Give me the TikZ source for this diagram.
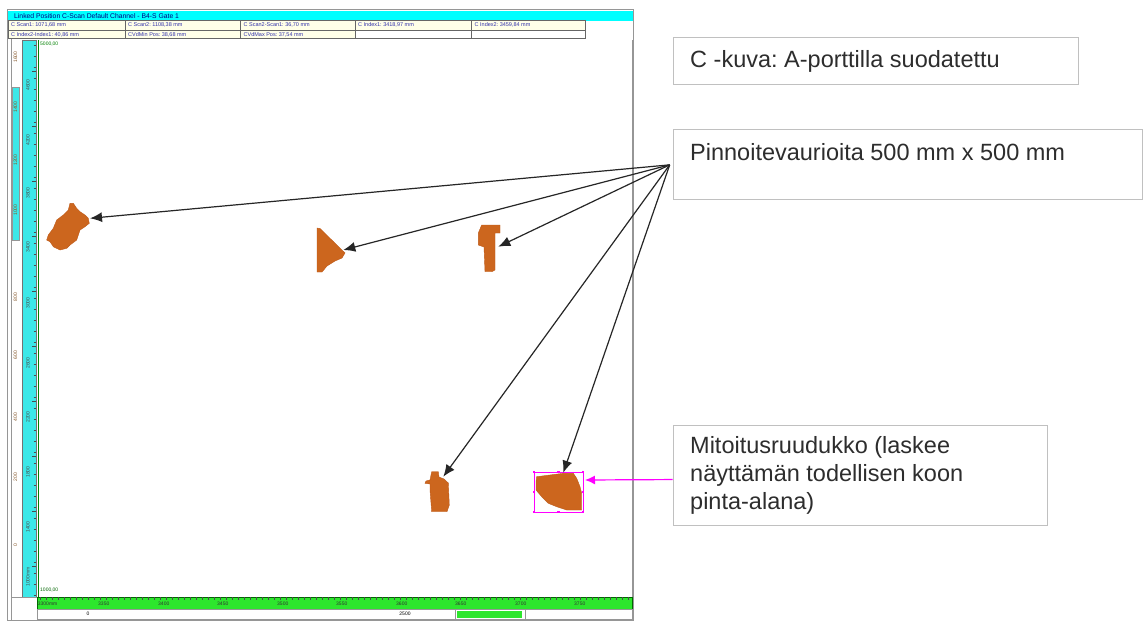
\documentclass[tikz,border=0pt]{standalone}
\usepackage{fontspec}
\setmainfont{Liberation Sans}
\usetikzlibrary{arrows.meta}
\frenchspacing
\definecolor{blob}{RGB}{204,102,30}
\definecolor{blobdark}{RGB}{190,90,25}
\definecolor{rulercyan}{RGB}{60,232,232}
\definecolor{hdrcyan}{RGB}{0,255,255}
\definecolor{rulegreen}{RGB}{45,230,45}
\definecolor{cellbg}{RGB}{255,255,232}
\definecolor{celltext}{RGB}{50,50,170}
\definecolor{boxborder}{RGB}{192,192,192}
\definecolor{mag}{RGB}{255,0,255}
\definecolor{framegray}{RGB}{150,150,150}
\definecolor{calltextcol}{RGB}{45,45,45}
\begin{document}
\begin{tikzpicture}[x=1pt,y=-1pt,
  callout/.style={draw=boxborder, line width=1.1pt, fill=white, inner sep=0pt, anchor=north west},
  calltext/.style={anchor=base west, font=\fontsize{23.5}{28.3}\selectfont, text=calltextcol, inner sep=0pt},
  pointer/.style={draw=black!85, line width=1.2pt, -{Latex[length=12pt,width=10pt]}},
  magpointer/.style={draw=mag, line width=1.2pt, -{Latex[length=10pt,width=9pt]}},
  blobshape/.style={fill=blob, draw=blobdark, line width=0.4pt},
  tiny/.style={font=\fontsize{5.5}{6}\selectfont, inner sep=0pt},
  celltxt/.style={tiny, text=celltext, anchor=west},
  rlabel/.style={font=\fontsize{5}{5}\selectfont, rotate=90, text=black!70, inner sep=0pt},
  frameline/.style={draw=framegray, line width=0.6pt}
]
\useasboundingbox (0,0) rectangle (1144,621);
\fill[white] (0,0) rectangle (1144,621);

% ---------- screenshot frame ----------
\draw[frameline, line width=1pt] (7,9) rectangle (633,620);
% header bar
\fill[hdrcyan] (8,11) rectangle (633,20.5);
\node[tiny, text=blue!50!black, anchor=west, font=\fontsize{6.8}{7}\selectfont] (hdr) at (14,15.8) {Linked Position C-Scan Default Channel - B4-S Gate 1};
% table
\fill[cellbg] (8.3,20.5) rectangle (585,30);
\fill[cellbg] (8.3,30) rectangle (355,38.7);
\draw[black!60, line width=0.7pt] (8.3,20.5) rectangle (585,38.7);
\draw[black!60, line width=0.6pt] (8.3,30) -- (585,30);
\foreach \x in {125,240.7,355,471.7} \draw[black!60, line width=0.6pt] (\x,20.5) -- (\x,38.7);
\node[celltxt] (c11) at (11,25.3) {C Scan1: 1071,68 mm};
\node[celltxt] (c12) at (128,25.3) {C Scan2: 1108,38 mm};
\node[celltxt] (c13) at (243.5,25.3) {C Scan2-Scan1: 36,70 mm};
\node[celltxt] (c14) at (358,25.3) {C Index1: 3418,97 mm};
\node[celltxt] (c15) at (474.5,25.3) {C Index2: 3459,84 mm};
\node[celltxt] (c21) at (11,34.4) {C Index2-Index1: 40,86 mm};
\node[celltxt] (c22) at (128,34.4) {CVdMin Pos: 38,68 mm};
\node[celltxt] (c23) at (243.5,34.4) {CVdMax Pos: 37,54 mm};

% left rulers
\draw[frameline] (11,39) -- (11,620);
\fill[rulercyan] (12,87) rectangle (19,240);
\draw[frameline] (12,87) rectangle (19,240);
\fill[rulercyan] (22,40) rectangle (36,597);
\draw[black!55, line width=0.6pt] (22,40) rectangle (36,597);
\foreach \y in {45,56,...,595} \draw[black!70, line width=0.5pt] (33.5,\y) -- (36,\y);
\foreach \y in {71,126,...,595} \draw[black!70, line width=0.5pt] (32,\y) -- (36,\y);
\foreach \y/\t in {85/4600,140/4200,193/3800,247/3400,303/3000,363/2600,417/2200,472/1800,527/1400,577/1000mm}
  \node[rlabel] at (28,\y) {\t};
\foreach \y/\t in {57/1600,107/1400,160/1200,210/1000,297/800,355/600,417/400,477/200,545/0}
  \node[rlabel, text=brown!70!black] at (15.5,\y) {\t};
% plot area
\draw[green!50!black, line width=0.5pt] (38,40) -- (38,597);
\draw[frameline] (632,40) -- (632,620);
\node[tiny, text=green!50!black, anchor=west, font=\fontsize{5}{5}\selectfont] (ymax) at (40,44) {5000,00};
\node[tiny, text=green!40!black, anchor=west, font=\fontsize{5}{5}\selectfont] (ymin) at (40,590) {1000,00};

% bottom ruler
\fill[rulegreen] (37,597) rectangle (632,609);
\draw[green!40!black, line width=0.5pt] (37,597) rectangle (632,609);
\foreach \x in {40,46,...,630} \draw[black!70, line width=0.5pt] (\x,597) -- (\x,599.5);
\foreach \x/\t in {37.7/3300mm,98/3350,158/3400,217/3450,277/3500,336/3550,396/3600,455/3650,515/3700,574/3750}
  \node[tiny, anchor=west, font=\fontsize{5}{5}\selectfont, text=black!80] at (\x,603.5) {\t};
\draw[frameline] (37,609) rectangle (632,619.5);
\draw[frameline] (455,609) -- (455,619.5);
\draw[frameline] (525,609) -- (525,619.5);
\fill[rulegreen] (457,610.5) rectangle (522,618);
\node[tiny, font=\fontsize{5}{5}\selectfont] (b0) at (88,614) {0};
\node[tiny, font=\fontsize{5}{5}\selectfont] (b2500) at (405,614) {2500};
\draw[frameline] (11,597) -- (37,597);

% ---------- defects ----------
\draw[blobshape] (70,203.3) -- (73.3,203.3) -- (76.7,208.3) -- (80,211.7) -- (85,215) -- (88.3,218.3) -- (89.3,223.3) -- (85,226.7) -- (80,230) -- (76.7,240) -- (70,245) -- (66.7,248.3) -- (60,250) -- (53.3,246.7) -- (50,241.7) -- (46.7,240) -- (48.3,235) -- (53.3,228.3) -- (56.7,220) -- (63.3,215) -- (68.3,210) -- cycle;
\draw[blobshape] (317,228) -- (320,228.5) -- (345,253) -- (342,258) -- (335,261) -- (327,266) -- (322,272) -- (317,272) -- cycle;
\draw[blobshape] (481.7,225) -- (500,225) -- (500,233) -- (495,233) -- (495,270) -- (491.7,271.7) -- (485,271.7) -- (484,247) -- (478.3,245) -- (478.3,233) -- cycle;
\draw[blobshape] (431.7,471.7) -- (438.3,471.7) -- (439,477) -- (444,479) -- (448.3,483) -- (449.3,505) -- (447,511.7) -- (431.7,511.7) -- (430,490) -- (430,484) -- (425,483.3) -- (426,481) -- (430,480) -- cycle;
\draw[blobshape] (536.7,476.7) -- (550,475) -- (563.3,473.3) -- (573.3,473.3) -- (576.7,478.3) -- (580,486.7) -- (581.7,493.3) -- (581.7,510) -- (566.7,510) -- (556.7,506.7) -- (548.3,503.3) -- (541.7,496.7) -- (536,490) -- (536,481.7) -- cycle;
% sizing grid (magenta box with handles)
\draw[mag, line width=0.7pt] (534,472) rectangle (583,512);
\foreach \p in {(534,472),(558.5,472),(583,472),(534,492),(583,492),(534,512),(558.5,512),(583,512)}
  \fill[mag] \p ++(-1.3,-1.3) rectangle ++(2.6,2.6);

% ---------- callout boxes ----------
\node[callout, minimum width=405pt, minimum height=47.3pt] (box1) at (672.7,36.7) {};
\node[calltext] (t1) at (690,67.3) {C -kuva: A-porttilla suodatettu};
\node[callout, minimum width=469.3pt, minimum height=70pt] (box2) at (672.7,129.3) {};
\node[calltext] (t2) at (690,160.5) {Pinnoitevaurioita 500 mm x 500 mm};
\node[callout, minimum width=374pt, minimum height=100pt] (box3) at (672.7,425) {};
\node[calltext] (t3a) at (690,453) {Mitoitusruudukko (laskee};
\node[calltext] (t3b) at (690,481.3) {näyttämän todellisen koon};
\node[calltext] (t3c) at (690,509.6) {pinta-alana)};

% ---------- arrows ----------
\coordinate (tip1) at (90,218.3);
\coordinate (tip2) at (343.3,250);
\coordinate (tip3) at (498.3,246.7);
\coordinate (tip4) at (443.3,476.7);
\coordinate (tip5) at (563.3,472.7);
\coordinate (magtip) at (585,480);
\foreach \t in {tip1,tip2,tip3,tip4,tip5} \draw[pointer] ([xshift=-3pt]box2.west) -- (\t);
\draw[magpointer] ([yshift=-4pt]box3.west) -- (magtip);
\end{tikzpicture}
\end{document}
